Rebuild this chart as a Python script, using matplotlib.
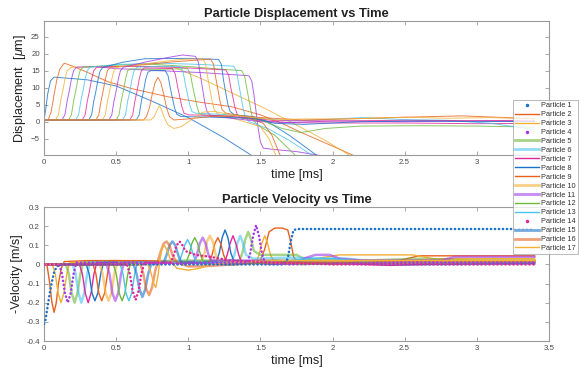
import matplotlib
matplotlib.use("Agg")
import matplotlib.pyplot as plt
from matplotlib.lines import Line2D

plt.rcParams['font.family'] = ['Liberation Sans', 'DejaVu Sans']
plt.rcParams['mathtext.fontset'] = 'custom'
plt.rcParams['mathtext.it'] = 'Liberation Sans:italic'
plt.rcParams['mathtext.rm'] = 'Liberation Sans'

# displacement [um] over time [ms]
disp_p1 = [(0, 0.5), (0.01, 3), (0.025, 8), (0.045, 12), (0.07, 13.1), (0.3, 12.3), (0.5, 10.5),
           (0.75, 6), (1.0, 1.2), (1.25, -4.8), (1.46, -10.5)]
disp_p2 = [(0, 0.5), (0.03, 0.6), (0.05, 3), (0.07, 8), (0.09, 12.5), (0.11, 15.5), (0.14, 17.2),
           (0.2, 16.3), (0.3, 14.5), (0.44, 11.8), (0.6, 9.8), (0.86, 7.3), (1.1, 5.6), (1.3, 4.4),
           (1.5, 2), (1.65, -0.5), (1.8, -3.5), (2.0, -7.2), (2.16, -10.2)]
disp_p3 = [(0, 0.5), (0.08, 0.5), (0.10, 2), (0.115, 6), (0.13, 9), (0.145, 12.5), (0.16, 15),
           (0.19, 16), (0.4, 16.2), (0.7, 16.3), (0.9, 16.0), (1.1, 12.5), (1.36, 7.3), (1.55, 3.5),
           (1.75, -1), (1.95, -5.5), (2.13, -10.2)]
disp_p4 = [(0, 0.5), (0.125, 0.5), (0.145, 2), (0.16, 6), (0.175, 9), (0.19, 12.5), (0.205, 15),
           (0.225, 16), (0.35, 16.2), (0.5, 15.6), (0.8, 15.0), (1.1, 14.4), (1.42, 13.5), (1.44, 12),
           (1.455, 8), (1.47, 3), (1.485, -2), (1.5, -6), (1.52, -7.8), (1.6, -8.2), (1.75, -8.8),
           (1.95, -10.2)]
disp_p5 = [(0, 0.5), (0.17, 0.5), (0.19, 2), (0.205, 6), (0.22, 9), (0.235, 12.5), (0.25, 15),
           (0.27, 16), (0.45, 16.5), (0.7, 17.0), (1.0, 16.2), (1.3, 15.2), (1.37, 15), (1.39, 13.5),
           (1.405, 10), (1.42, 6.5), (1.435, 3), (1.45, 0.5), (1.48, -1), (1.6, -4), (1.75, -10.2)]
disp_p6 = [(0, 0.5), (0.22, 0.5), (0.24, 2), (0.255, 6), (0.27, 9), (0.285, 12.5), (0.30, 15),
           (0.32, 16), (0.5, 16.8), (0.8, 17.2), (1.1, 16.8), (1.315, 16.3), (1.335, 14.8), (1.35, 11),
           (1.365, 7.5), (1.38, 4), (1.395, 1.5), (1.42, 0), (1.55, -2), (1.7, -5.5), (1.87, -10.2)]
disp_p7 = [(0, 0.5), (0.265, 0.5), (0.285, 2), (0.30, 6), (0.315, 9), (0.33, 12.5), (0.345, 15),
           (0.365, 16), (0.6, 16.3), (0.9, 16.0), (1.26, 15.2), (1.28, 13.7), (1.295, 10), (1.31, 7),
           (1.325, 4), (1.34, 2), (1.37, 1), (1.5, 0.3), (1.7, -0.3), (2.0, -0.4), (2.5, -0.4),
           (3.0, -0.6), (3.4, -0.5)]
disp_p8 = [(0, 0.5), (0.31, 0.5), (0.33, 2), (0.345, 6), (0.36, 9), (0.375, 12.5), (0.39, 15),
           (0.41, 16), (0.55, 17.5), (0.7, 18.5), (1.0, 18.6), (1.21, 18.3), (1.23, 16.8), (1.245, 12),
           (1.26, 8.5), (1.275, 5), (1.29, 3), (1.32, 2), (1.45, 1.5), (1.55, 0), (1.7, -4), (1.9, -10.2)]
disp_p9 = [(0, 0.5), (0.36, 0.5), (0.38, 2), (0.395, 6), (0.41, 9), (0.425, 12.5), (0.44, 15),
           (0.46, 16), (0.7, 16.8), (0.9, 17.6), (1.155, 18.4), (1.175, 16.9), (1.19, 13), (1.205, 9.5),
           (1.22, 6), (1.235, 3.5), (1.26, 2.5), (1.4, 1.5), (1.52, -0.5), (1.58, -4), (1.64, -10.2)]
disp_p10 = [(0, 0.5), (0.405, 0.5), (0.425, 2), (0.44, 6), (0.455, 9), (0.47, 12.5), (0.485, 15),
            (0.505, 16), (0.7, 17), (0.95, 18.3), (1.1, 18.5), (1.12, 17), (1.135, 13), (1.15, 9.5),
            (1.165, 6), (1.18, 3.5), (1.21, 2), (1.35, 0.5), (1.5, -1.5), (1.56, -5), (1.61, -10.2)]
disp_p11 = [(0, 0.5), (0.45, 0.5), (0.47, 2), (0.485, 6), (0.50, 9), (0.515, 12.5), (0.53, 15),
            (0.55, 16), (0.7, 17.5), (0.85, 18.8), (0.96, 19.6), (1.05, 19.2), (1.07, 17.5),
            (1.085, 13.5), (1.10, 9.5), (1.115, 5.5), (1.13, 3), (1.16, 1.5), (1.3, 1.0), (1.5, 0),
            (1.7, -0.3), (2.0, 0.2), (2.5, 0.0), (3.0, 0.2), (3.4, 0.1)]
disp_p12 = [(0, 0.5), (0.50, 0.5), (0.52, 2), (0.535, 6), (0.55, 9), (0.565, 12.5), (0.58, 15),
            (0.60, 15.5), (0.8, 15.4), (0.995, 15.6), (1.015, 14), (1.03, 10.5), (1.045, 7.5),
            (1.06, 4.5), (1.075, 2.5), (1.1, 2), (1.3, 1.5), (1.5, 0.5), (1.65, -2), (1.78, -3.2),
            (1.95, -2), (2.2, -1.3), (2.6, -1.2), (3.0, -1.3), (3.4, -1.6)]
disp_p13 = [(0, 0.5), (0.545, 0.5), (0.565, 2), (0.58, 6), (0.595, 9), (0.61, 12.5), (0.625, 15),
            (0.645, 16), (0.8, 16.3), (0.945, 16.2), (0.965, 14.5), (0.98, 11), (0.995, 8),
            (1.01, 5), (1.025, 3), (1.05, 2.5), (1.3, 2), (1.5, 1), (1.7, 0.2), (1.9, 0.5),
            (2.2, 1.2), (2.5, 0.6), (2.8, 0.4), (3.1, -0.5), (3.4, -2.3)]
disp_p14 = [(0, 0.5), (0.595, 0.5), (0.615, 2), (0.63, 6), (0.645, 9), (0.66, 12.5), (0.675, 15),
            (0.695, 15.8), (0.89, 15.6), (0.91, 14), (0.925, 10.5), (0.94, 7.5), (0.955, 4.5),
            (0.97, 2.5), (1.0, 2), (1.2, 1.8), (1.4, 1.2), (1.6, 0.3), (2.0, 0.2), (2.5, 0.4),
            (3.0, 0.3), (3.4, 0.4)]
disp_p15 = [(0, 0.5), (0.64, 0.5), (0.66, 2), (0.675, 6), (0.69, 9), (0.705, 12.5), (0.72, 14.5),
            (0.74, 15), (0.84, 15), (0.86, 13.5), (0.875, 10), (0.89, 7), (0.905, 4), (0.92, 2.2),
            (0.95, 1.5), (1.2, 1.3), (1.45, 1), (1.6, -0.5), (1.8, -0.8), (2.2, 0.0), (2.6, 0.2),
            (3.0, 0.0), (3.4, 0.1)]
disp_p16 = [(0, 0.5), (0.69, 0.5), (0.71, 1.5), (0.73, 4), (0.75, 8), (0.77, 11.5), (0.79, 13),
            (0.81, 11.5), (0.83, 8), (0.85, 4), (0.87, 1.5), (0.9, 0.5), (1.0, 0.8), (1.15, 1.5),
            (1.35, 1.8), (1.5, 1.2), (1.8, 0.5), (2.1, 0.8), (2.5, 1.3), (2.9, 1.7), (3.2, 1.2),
            (3.4, 1.0)]
disp_p17 = [(0, 0.5), (0.74, 0.5), (0.765, 1.5), (0.785, 3.5), (0.80, 4.7), (0.815, 3.5),
            (0.835, 1), (0.86, -1), (0.9, -2), (0.95, -1.5), (1.02, 0.5), (1.1, 2.8), (1.18, 3),
            (1.3, 2), (1.45, 1.2), (1.6, 0.5), (1.8, 0.8), (2.1, 0.8), (2.5, 1.3), (2.8, 1.0),
            (3.1, 1.2), (3.4, 0.8)]

# -velocity [m/s] over time [ms]
vel_p1 = [(0, -0.31), (0.01, -0.29), (0.025, -0.22), (0.04, -0.15), (0.055, -0.09), (0.07, -0.04),
          (0.09, -0.01), (0.12, 0), (1.66, 0), (1.69, 0.03), (1.71, 0.12), (1.73, 0.18),
          (1.76, 0.185), (3.4, 0.185)]
vel_p2 = [(0, 0), (0.02, 0), (0.04, -0.1), (0.055, -0.2), (0.07, -0.25), (0.085, -0.2), (0.1, -0.1),
          (0.12, -0.02), (0.14, 0.015), (0.3, 0.02), (0.5, 0.02), (0.8, 0.01), (1.2, 0.01),
          (1.5, 0.02), (1.53, 0.08), (1.56, 0.17), (1.6, 0.19), (1.65, 0.19), (1.69, 0.18),
          (1.71, 0.12), (1.73, 0.04), (1.76, 0.01), (2.0, 0.0), (2.4, 0.01), (2.6, 0.045),
          (3.4, 0.045)]
vel_p3 = [(0, 0), (0.058, 0), (0.078, -0.05), (0.098, -0.15), (0.118, -0.2), (0.138, -0.15),
          (0.158, -0.05), (0.178, 0.01), (0.4, 0.015), (0.8, 0.01), (1.2, 0.02), (1.47, 0.01),
          (1.49, 0.05), (1.51, 0.11), (1.53, 0.15), (1.55, 0.11), (1.57, 0.05), (1.59, 0.02),
          (1.8, 0.02), (2.05, 0.05), (2.55, 0.05), (2.7, 0.03), (3.4, 0.03)]
vel_p4 = [(0, 0), (0.105, 0), (0.125, -0.05), (0.145, -0.15), (0.165, -0.2), (0.185, -0.15),
          (0.205, -0.05), (0.225, 0.01), (0.5, 0.01), (0.9, 0.005), (1.3, 0.01), (1.41, 0.01),
          (1.43, 0.06), (1.45, 0.15), (1.47, 0.205), (1.49, 0.15), (1.51, 0.06), (1.53, 0.01),
          (1.7, 0.0), (2.5, 0.01), (3.4, 0.01)]
vel_p5 = [(0, 0), (0.152, 0), (0.172, -0.05), (0.192, -0.15), (0.212, -0.2), (0.232, -0.15),
          (0.252, -0.05), (0.272, 0.01), (0.6, 0.015), (1.0, 0.02), (1.355, 0.02), (1.375, 0.06),
          (1.395, 0.13), (1.415, 0.17), (1.435, 0.13), (1.455, 0.07), (1.5, 0.05), (1.75, 0.05),
          (1.8, 0.03), (2.2, 0.02), (2.6, 0.03), (3.0, 0.02), (3.4, 0.02)]
vel_p6 = [(0, 0), (0.199, 0), (0.219, -0.05), (0.239, -0.15), (0.259, -0.2), (0.279, -0.15),
          (0.299, -0.05), (0.319, 0.01), (0.7, 0.01), (1.1, 0.015), (1.3, 0.015), (1.32, 0.05),
          (1.34, 0.11), (1.36, 0.15), (1.38, 0.11), (1.4, 0.05), (1.45, 0.03), (1.7, 0.035),
          (2.1, 0.03), (2.3, 0.015), (3.4, 0.015)]
vel_p7 = [(0, 0), (0.246, 0), (0.266, -0.05), (0.286, -0.15), (0.306, -0.2), (0.326, -0.15),
          (0.346, -0.05), (0.366, 0.01), (0.8, 0.01), (1.25, 0.01), (1.27, 0.05), (1.29, 0.11),
          (1.31, 0.15), (1.33, 0.11), (1.35, 0.05), (1.37, 0.01), (1.6, 0.0), (2.0, 0.005),
          (2.4, -0.005), (2.6, 0.0), (3.4, 0.005)]
vel_p8 = [(0, 0), (0.293, 0), (0.313, -0.05), (0.333, -0.15), (0.353, -0.19), (0.373, -0.15),
          (0.393, -0.05), (0.413, 0.01), (0.8, 0.015), (1.195, 0.015), (1.215, 0.06), (1.235, 0.14),
          (1.255, 0.18), (1.275, 0.14), (1.295, 0.06), (1.315, 0.02), (1.6, 0.01), (1.8, 0.0),
          (2.2, 0.01), (2.8, 0.01), (3.4, 0.01)]
vel_p9 = [(0, 0), (0.34, 0), (0.36, -0.05), (0.38, -0.15), (0.40, -0.19), (0.42, -0.15),
          (0.44, -0.05), (0.46, 0.02), (0.7, 0.02), (1.0, 0.01), (1.145, 0.01), (1.165, 0.05),
          (1.185, 0.11), (1.205, 0.14), (1.225, 0.11), (1.245, 0.05), (1.265, 0.01), (1.5, 0.01),
          (2.0, 0.01), (2.6, 0.02), (3.4, 0.02)]
vel_p10 = [(0, 0), (0.387, 0), (0.407, -0.05), (0.427, -0.15), (0.447, -0.19), (0.467, -0.15),
           (0.487, -0.05), (0.507, 0.01), (0.9, 0.01), (1.09, 0.01), (1.11, 0.05), (1.13, 0.12),
           (1.15, 0.15), (1.17, 0.12), (1.19, 0.05), (1.21, 0.01), (1.5, 0.02), (2.0, 0.02),
           (3.4, 0.02)]
vel_p11 = [(0, 0), (0.434, 0), (0.454, -0.05), (0.474, -0.15), (0.494, -0.19), (0.514, -0.15),
           (0.534, -0.05), (0.554, 0.01), (0.9, 0.01), (1.04, 0.01), (1.06, 0.05), (1.08, 0.11),
           (1.10, 0.14), (1.12, 0.11), (1.14, 0.05), (1.16, 0.02), (1.5, 0.02), (1.75, 0.01),
           (1.8, 0.03), (1.88, 0.05), (1.98, 0.05), (2.05, 0.03), (2.2, 0.02), (2.75, 0.02),
           (2.85, 0.04), (3.4, 0.04)]
vel_p12 = [(0, 0), (0.481, 0), (0.501, -0.05), (0.521, -0.15), (0.541, -0.19), (0.561, -0.15),
           (0.581, -0.05), (0.601, 0.01), (0.8, 0.01), (0.985, 0.01), (1.005, 0.05), (1.025, 0.11),
           (1.045, 0.14), (1.065, 0.11), (1.085, 0.05), (1.105, 0.01), (1.4, 0.01), (1.8, 0.0),
           (2.3, 0.01), (2.7, 0.01), (3.4, 0.01)]
vel_p13 = [(0, 0), (0.528, 0), (0.548, -0.05), (0.568, -0.15), (0.588, -0.19), (0.608, -0.15),
           (0.628, -0.05), (0.648, 0.01), (0.935, 0.01), (0.955, 0.05), (0.975, 0.1), (0.995, 0.13),
           (1.015, 0.1), (1.035, 0.05), (1.055, 0.01), (1.5, 0.01), (1.85, 0.03), (2.0, 0.03),
           (2.3, 0.01), (3.4, 0.01)]
vel_p14 = [(0, 0), (0.575, 0), (0.595, -0.05), (0.615, -0.14), (0.635, -0.185), (0.655, -0.14),
           (0.675, -0.05), (0.695, 0.01), (0.88, 0.01), (0.9, 0.05), (0.92, 0.1), (0.94, 0.12),
           (0.96, 0.1), (0.98, 0.07), (1.05, 0.05), (1.15, 0.04), (1.3, 0.02), (1.6, 0.01),
           (2.0, 0.0), (2.5, 0.0), (3.4, 0.0)]
vel_p15 = [(0, 0), (0.622, 0), (0.642, -0.05), (0.662, -0.13), (0.682, -0.17), (0.702, -0.13),
           (0.722, -0.05), (0.742, 0.0), (0.83, 0.01), (0.85, 0.05), (0.87, 0.1), (0.89, 0.12),
           (0.91, 0.1), (0.93, 0.05), (0.95, 0.01), (1.3, 0.0), (1.6, 0.02), (1.9, 0.01),
           (2.5, 0.0), (3.4, 0.005)]
vel_p16 = [(0, 0), (0.669, 0), (0.689, -0.05), (0.709, -0.13), (0.729, -0.16), (0.749, -0.12),
           (0.769, -0.04), (0.79, 0.02), (0.81, 0.07), (0.83, 0.11), (0.85, 0.12), (0.87, 0.1),
           (0.89, 0.05), (0.92, 0.01), (1.0, -0.01), (1.1, -0.01), (1.3, 0.0), (1.6, 0.01),
           (2.0, 0.01), (2.5, 0.01), (3.4, 0.015)]
vel_p17 = [(0, 0), (0.72, 0), (0.74, -0.04), (0.76, -0.1), (0.775, -0.12), (0.79, -0.06),
           (0.805, 0.03), (0.82, 0.09), (0.835, 0.1), (0.855, 0.07), (0.88, 0.02), (0.92, -0.02),
           (1.0, -0.03), (1.08, -0.02), (1.15, 0.0), (1.3, 0.01), (1.6, 0.02), (2.0, 0.02),
           (3.4, 0.02)]

disp_all = [disp_p1, disp_p2, disp_p3, disp_p4, disp_p5, disp_p6, disp_p7, disp_p8, disp_p9,
            disp_p10, disp_p11, disp_p12, disp_p13, disp_p14, disp_p15, disp_p16, disp_p17]
vel_all = [vel_p1, vel_p2, vel_p3, vel_p4, vel_p5, vel_p6, vel_p7, vel_p8, vel_p9,
           vel_p10, vel_p11, vel_p12, vel_p13, vel_p14, vel_p15, vel_p16, vel_p17]
labels = ["Particle %d" % (i + 1) for i in range(17)]

# styling
cycle = ['#1a72c9', '#e8601c', '#f2b035', '#a23be6', '#6cb83a', '#48c3ef', '#e0289a']
dotted = [1, 4, 14]
thick = [5, 6, 10, 11, 15, 16]
axis_col = '#9a9a9a'
tick_col = '#4a4a4a'


def style_axes(ax):
    for s in ax.spines.values():
        s.set_color(axis_col)
        s.set_linewidth(0.8)
    ax.tick_params(direction='in', length=3, width=0.6, color=axis_col, labelcolor=tick_col,
                   labelsize=5.7, top=True, right=True, pad=3)


fig = plt.figure(figsize=(5.79, 3.74), dpi=100)
ax1 = fig.add_axes([0.076, 0.5856, 0.872, 0.3583])
ax2 = fig.add_axes([0.076, 0.0882, 0.872, 0.3583])

# top panel: displacement
for i, pts in enumerate(disp_all):
    t, d = zip(*pts)
    ax1.plot(t, d, color=cycle[i % 7], lw=0.7, alpha=0.8)

ax1.set_xlim(0, 3.5)
ax1.set_ylim(-9.8, 29.6)
ax1.set_yticks([-5, 0, 5, 10, 15, 20, 25])
ax1.set_xticks([0, 0.5, 1, 1.5, 2, 2.5, 3, 3.5])
# the 3.5 label sits under the legend in the original
ax1.set_xticklabels(['0', '0.5', '1', '1.5', '2', '2.5', '3', ''])
ax1.set_title('Particle Displacement vs Time', fontsize=9.3, fontweight='bold', color='#222222', pad=3)
ax1.set_xlabel('time [ms]', fontsize=9.2, color='#222222', labelpad=2)
ax1.set_ylabel(r'Displacement  [$\mu$m]', fontsize=9.1, color='#222222', labelpad=2)
style_axes(ax1)

# bottom panel: -velocity
handles = []
for i, pts in enumerate(vel_all):
    k = i + 1
    t, v = zip(*pts)
    c = cycle[i % 7]
    if k in dotted:
        ax2.plot(t, v, color=c, lw=1.8, ls=(0, (0.1, 1.5)), dash_capstyle='round', zorder=3)
        handles.append(Line2D([], [], color=c, marker='.', ms=3, ls='None'))
    elif k in thick:
        ax2.plot(t, v, color=c, lw=1.8, alpha=0.6)
        handles.append(Line2D([], [], color=c, lw=2.0, alpha=0.6))
    else:
        ax2.plot(t, v, color=c, lw=1.0)
        handles.append(Line2D([], [], color=c, lw=1.0))

ax2.set_xlim(0, 3.5)
ax2.set_ylim(-0.4, 0.3)
ax2.set_yticks([-0.4, -0.3, -0.2, -0.1, 0, 0.1, 0.2, 0.3])
ax2.set_yticklabels(['-0.4', '-0.3', '-0.2', '-0.1', '0', '0.1', '0.2', '0.3'])
ax2.set_xticks([0, 0.5, 1, 1.5, 2, 2.5, 3, 3.5])
ax2.set_xticklabels(['0', '0.5', '1', '1.5', '2', '2.5', '3', '3.5'])
ax2.set_title('Particle Velocity vs Time', fontsize=9.3, fontweight='bold', color='#222222', pad=3)
ax2.set_xlabel('time [ms]', fontsize=9.2, color='#222222', labelpad=2)
ax2.set_ylabel('-Velocity [m/s]', fontsize=9.1, color='#222222', labelpad=2)
style_axes(ax2)

leg = fig.legend(handles, labels, loc='upper left', bbox_to_anchor=(513 / 579, 1 - 100 / 374),
                 fontsize=5.3, frameon=True, fancybox=False, edgecolor=axis_col,
                 handlelength=3.2, handletextpad=0.35, labelspacing=0.24, borderpad=0.3,
                 borderaxespad=0)
leg.get_frame().set_linewidth(0.6)
for txt in leg.get_texts():
    txt.set_color('#333333')

fig.savefig('out.png', dpi=100)
